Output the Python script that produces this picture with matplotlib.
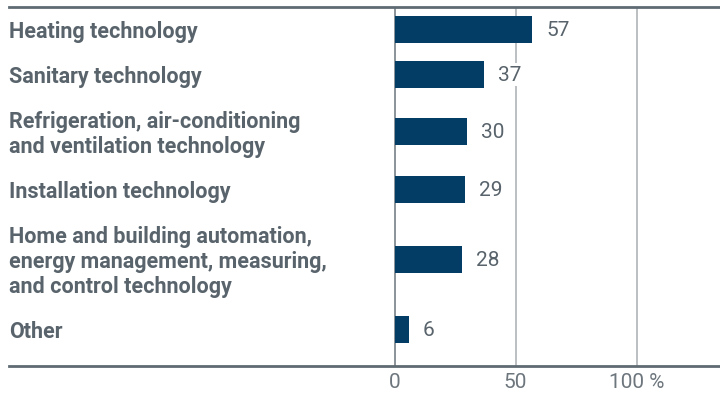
"""Share of companies by technology segment (horizontal bar chart)."""
import numpy as np
import matplotlib
matplotlib.use("Agg")
import matplotlib.pyplot as plt

categories = [
    "Heating technology",
    "Sanitary technology",
    "Refrigeration, air-conditioning\nand ventilation technology",
    "Installation technology",
    "Home and building automation,\nenergy management, measuring,\nand control technology",
    "Other",
]
values = [57, 37, 30, 29, 28, 6]
tick_values = [0, 50, 100]
tick_labels = ["0", "50", "100 %"]

BAR = "#033c65"
TEXT = "#58636b"
SPINE = "#5f6a72"
GRID = "#a9adb1"

plt.rcParams["font.family"] = ["Roboto", "DejaVu Sans"]

# slot height grows with the number of label lines (pixel-like units)
n_lines = np.array([c.count("\n") + 1 for c in categories])
slot = 20 + 25 * n_lines
bottoms = np.cumsum(slot)
centers = bottoms - slot / 2
y_max = bottoms[-1] + 13

fig = plt.figure(figsize=(7.2, 4.1), dpi=100)
ax = fig.add_axes([9 / 720, (410 - 366.5) / 410, 1 - 9 / 720, 359 / 410])

px_per_unit = 121 / 50
x_left = -(394.5 - 9) / px_per_unit
x_right = (720 - 394.5) / px_per_unit
ax.set_xlim(x_left, x_right)
ax.set_ylim(y_max, 0)

ax.axvline(0, color="#6d767d", lw=1.1, zorder=1)
for t in tick_values[1:]:
    ax.axvline(t, color=GRID, lw=1.1, zorder=1)

ax.barh(centers, values, height=27, color=BAR, zorder=3)

for yc, v in zip(centers, values):
    ax.annotate(f"{v}", (v, yc), xytext=(10, 0), textcoords="offset points",
                ha="left", va="center", fontsize=15, color=TEXT, zorder=4,
                bbox=dict(boxstyle="square,pad=0.1", fc="white", ec="none"))

for yc, lab in zip(centers, categories):
    ax.text(0, yc + 1.5, lab, transform=ax.get_yaxis_transform(), ha="left",
            va="center", fontsize=15.5, fontweight="bold", color=TEXT,
            linespacing=1.18)

for side in ("left", "right"):
    ax.spines[side].set_visible(False)
for side in ("top", "bottom"):
    ax.spines[side].set_color(SPINE)
    ax.spines[side].set_linewidth(2.0)

ax.set_yticks([])
ax.set_xticks(tick_values)
ax.set_xticklabels(tick_labels, fontsize=15, color="#6d767d")
ax.tick_params(axis="x", length=0, pad=5)

fig.savefig("out.png", dpi=100)
